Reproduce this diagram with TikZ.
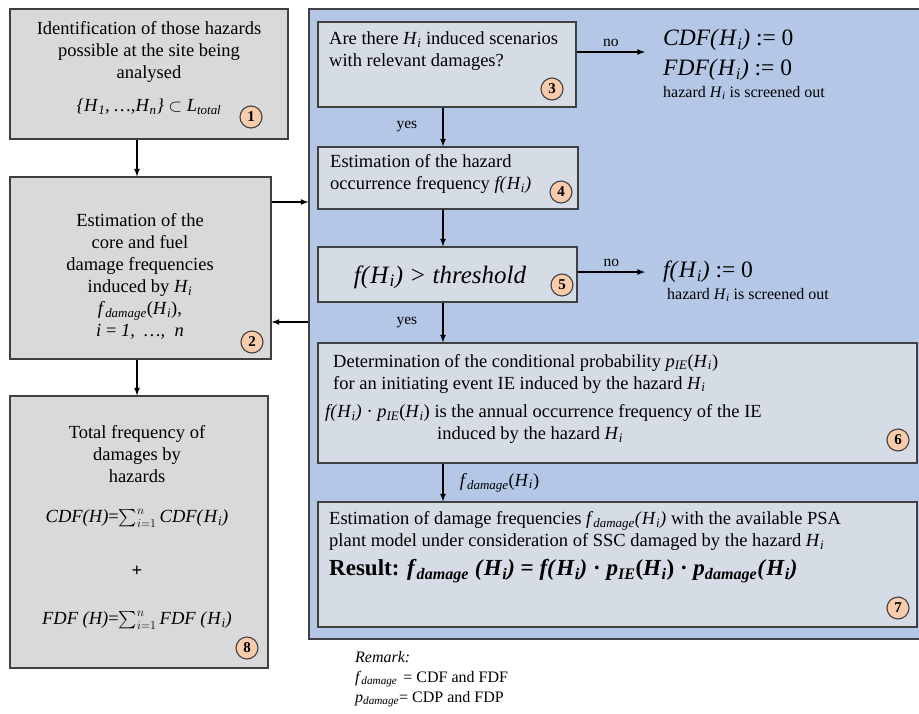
\documentclass[tikz,border=0pt]{standalone}
\usepackage{amsmath}
\usepackage{fontspec}
\setmainfont{Liberation Serif}
\usepackage{xcolor}
\usepackage{tikz}
\usetikzlibrary{shapes,arrows,positioning}

\definecolor{gris}{HTML}{D9D9D9}
\definecolor{azul}{HTML}{B4C7E7}
\definecolor{celeste}{HTML}{D6DCE5}
\definecolor{salmon}{HTML}{F8CBAD}
\definecolor{borde}{HTML}{404040}

\newcommand{\Hi}{\textit{H}\textsubscript{\textit{i}}}
\newcommand{\fdam}{\textit{f}\textsubscript{\textit{damage}}}
\newcommand{\pdam}{\textit{p}\textsubscript{\textit{damage}}}
\newcommand{\pIE}{\textit{p}\textsubscript{\textit{IE}}}
\newcommand{\suma}{$\sum\nolimits_{i=1}^{n}$}

\begin{document}
\begin{tikzpicture}[
x=1pt, y=-1pt,
 every node/.style = {font=\fontsize{18.5}{22}\selectfont},
 caja/.style={rectangle, draw=borde, line width=1.2pt, fill=gris, inner sep=0pt},
 cajaz/.style={rectangle, draw=borde, line width=1.2pt, fill=celeste, inner sep=0pt},
 num/.style={circle, draw=borde, line width=1.1pt, fill=salmon, minimum size=22pt,
      inner sep=0pt, font=\fontsize{15}{15}\selectfont\bfseries},
 txt/.style={inner sep=0pt},
 lbl/.style={inner sep=0pt, font=\fontsize{15.5}{18}\selectfont},
 flecha/.style={-latex, line width=1.6pt}
]
\useasboundingbox (0,0) rectangle (919,713);

  % Cajas
  \node[rectangle, draw=borde, line width=1.2pt, fill=azul, minimum width=612pt, minimum height=630pt] (P) at (615,324) {};

  \node[caja, minimum width=278pt, minimum height=130pt] (A) at (149,74) {};
  \node[caja, minimum width=261pt, minimum height=182pt] (B) at (140.5,268) {};
  \node[caja, minimum width=258pt, minimum height=272pt] (H) at (139,532) {};
  \node[cajaz, minimum width=258pt, minimum height=85pt] (C) at (447,64.5) {};
  \node[cajaz, minimum width=260pt, minimum height=62pt] (D) at (448,178) {};
  \node[cajaz, minimum width=259pt, minimum height=55pt] (E) at (447.5,274.5) {};
  \node[cajaz, minimum width=599pt, minimum height=120pt] (F) at (617.5,403) {};
  \node[cajaz, minimum width=599pt, minimum height=125pt] (G) at (617.5,564.5) {};

  % Textos
  \node[txt, align=center] (a) at (149,68) {Identification of those hazards\\possible at the site being\\analysed\\[11pt]\textit{\{H}\textsubscript{\textit{1}}\textit{, …,H}\textsubscript{\textit{n}}\textit{\}} $\subset$ \textit{L}\textsubscript{\textit{total}}};
  \node[txt, align=center] (b) at (140,276.5) {Estimation of the\\core and fuel\\damage frequencies\\induced by \Hi\\\fdam(\Hi),\\\textit{i} = \textit{1,\ \ …,\ \ n}};
  \node[txt, align=center] (h) at (137,527.5) {Total frequency of\\damages by\\hazards\\[18pt]\textit{CDF(H)}=\suma\,\textit{CDF(}\Hi\textit{)}\\[32pt]\textbf{+}\\[26pt]\textit{FDF (H)}=\suma\,\textit{FDF (}\Hi\textit{)}};

  \node[txt, anchor=west, align=left] (c) at (329,51) {Are there \Hi{} induced scenarios\\with relevant damages?};
  \node[txt, anchor=west, align=left] (d) at (330,174) {Estimation of the hazard\\occurrence frequency \textit{f(}\Hi\textit{)}};
  \node[txt, font=\fontsize{25}{30}\selectfont] (e) at (440,277) {\textit{f(}\Hi\textit{) > threshold}};
  \node[txt, anchor=west, align=left] (f1) at (333,373.5) {Determination of the conditional probability \pIE(\Hi)\\for an initiating event IE induced by the hazard \Hi};
  \node[txt, anchor=west, align=left] (f2) at (325,424) {\textit{f(}\Hi\textit{)} · \pIE(\Hi) is the annual occurrence frequency of the IE\\\hspace*{112pt}induced by the hazard \Hi};
  \node[txt, anchor=west, align=left] (g1) at (329,531) {Estimation of damage frequencies \fdam\textit{(}\Hi\textit{)} with the available PSA\\plant model under consideration of SSC damaged by the hazard \Hi};
  \node[txt, anchor=west, font=\fontsize{23}{27}\selectfont\bfseries] (g2) at (329,571) {Result: \textit{f}\textsubscript{\textit{damage}} \textit{(}\Hi\textit{)} = \textit{f(}\Hi\textit{)} · \pIE(\Hi) · \pdam\textit{(}\Hi\textit{)}};

  \node[txt, anchor=west, font=\fontsize{23.5}{28}\selectfont] (I1) at (663,40) {\textit{CDF(}\Hi\textit{)} := 0};
  \node[txt, anchor=west, font=\fontsize{23.5}{28}\selectfont] (I2) at (663,70) {\textit{FDF(}\Hi\textit{)} := 0};
  \node[txt, anchor=west, font=\fontsize{16}{19}\selectfont] (I3) at (663,93) {hazard \Hi{} is screened out};
  \node[txt, anchor=west, font=\fontsize{23.5}{28}\selectfont] (J1) at (663,272) {\textit{f(}\Hi\textit{)} := 0};
  \node[txt, anchor=west, font=\fontsize{16}{19}\selectfont] (J2) at (667,295) {hazard \Hi{} is screened out};

  \node[txt, anchor=west, align=left, font=\fontsize{16}{20}\selectfont] (R) at (355,679) {\textit{Remark:}\\\fdam{} \hspace{2pt}= CDF and FDF\\\pdam{}= CDP and FDP};

  \node[num] (n1) at (251,117) {1};
  \node[num] (n2) at (252,342) {2};
  \node[num] (n3) at (552,89) {3};
  \node[num] (n4) at (561,192) {4};
  \node[num] (n5) at (562,285) {5};
  \node[num] (n6) at (898,440) {6};
  \node[num] (n7) at (898,608) {7};
  \node[num] (n8) at (247,648) {8};

  % Flechas
  \coordinate (ax) at (443,0);
  \coordinate (lx) at (137,0);
  \coordinate (y1) at (0,202);
  \coordinate (y2) at (0,322);
  \coordinate (noA) at (645,52);
  \coordinate (noB) at (645,272);

  \draw[flecha] (A.south -| lx) -- (B.north -| lx);
  \draw[flecha] (B.south -| lx) -- (H.north -| lx);
  \draw[flecha] (B.east |- y1) -- (P.west |- y1);
  \draw[flecha] (P.west |- y2) -- (B.east |- y2);
  \draw[flecha] (C.east |- noA) -- node[lbl, above=5pt] (no1) {no} (noA);
  \draw[flecha] (C.south -| ax) -- node[lbl, left=25pt] (si1) {yes} (D.north -| ax);
  \draw[flecha] (D.south -| ax) -- (E.north -| ax);
  \draw[flecha] (E.east |- noB) -- node[lbl, above=5pt] (no2) {no} (noB);
  \draw[flecha] (E.south -| ax) -- node[lbl, left=25pt] (si2) {yes} (F.north -| ax);
  \draw[flecha] (F.south -| ax) -- node[txt, right=16pt] (fd) {\fdam(\Hi)} (G.north -| ax);

\end{tikzpicture}
\end{document}
